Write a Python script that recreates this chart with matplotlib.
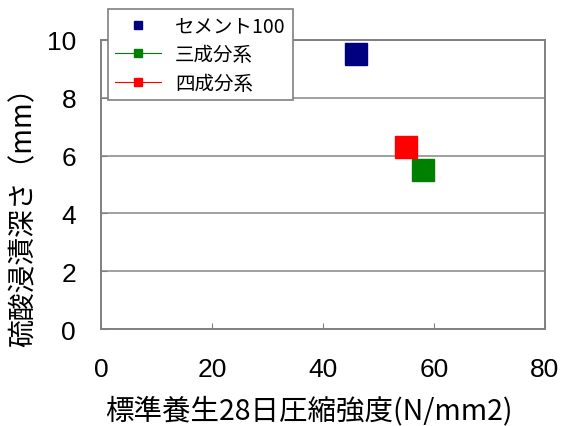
import matplotlib.pyplot as plt

plt.rcParams['font.family'] = ['Noto Sans CJK JP', 'DejaVu Sans']

# data
labels = ["セメント100", "三成分系", "四成分系"]
strength = [46.0, 58.0, 55.0]      # 標準養生28日圧縮強度 (N/mm2)
depth = [9.5, 5.5, 6.3]            # 硫酸浸漬深さ (mm)
colors = ["#000080", "#008000", "#ff0000"]
styles = ["none", "-", "-"]

x_ticks = [0, 20, 40, 60, 80]
y_ticks = [0, 2, 4, 6, 8, 10]

fig = plt.figure(figsize=(5.68, 4.27), dpi=100)
ax = fig.add_axes([0.178, 0.227, 0.7815, 0.677])

for lab, x, y, c, ls in zip(labels, strength, depth, colors, styles):
    ax.plot([x], [y], marker="s", markersize=16, color=c, linestyle=ls,
            linewidth=0.8, markeredgecolor=c, label=lab, clip_on=False, zorder=3)

ax.set_xlim(0, 80)
ax.set_ylim(0, 10)
ax.set_xticks(x_ticks)
ax.set_yticks(y_ticks)
ax.grid(True, axis="y", color="#a0a0a0", linewidth=1.4)
ax.set_axisbelow(True)
for s in ax.spines.values():
    s.set_color("#808080")
    s.set_linewidth(1.4)
ax.tick_params(axis="both", direction="in", length=4, color="#808080",
               labelsize=19)
ax.tick_params(axis="x", pad=20)
ax.tick_params(axis="y", pad=18)
for t in ax.get_xticklabels() + ax.get_yticklabels():
    t.set_family(["Liberation Sans Narrow", "Liberation Sans", "DejaVu Sans"])

ax.set_xlabel("標準養生28日圧縮強度(N/mm2)", fontsize=20.5)
ax.xaxis.set_label_coords(0.468, -0.228)
ax.set_ylabel("硫酸浸漬深さ（mm）", fontsize=20)
ax.yaxis.set_label_coords(-0.14, 0.415)

leg = fig.legend(loc="upper left", bbox_to_anchor=(108 / 568, 1 - 10 / 427),
                 borderaxespad=0, fontsize=14, frameon=True, fancybox=False,
                 framealpha=1, edgecolor="#808080", markerscale=0.38,
                 handlelength=2.4, labelspacing=0.38, borderpad=0.35,
                 handletextpad=0.7)
leg.get_frame().set_linewidth(1.2)
leg.set_zorder(5)

fig.savefig("out.png", dpi=100)
